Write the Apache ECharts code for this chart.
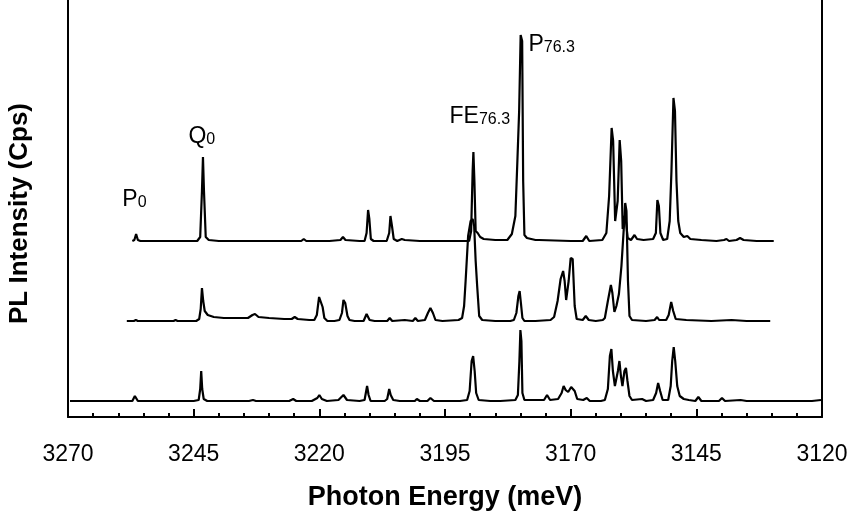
<!DOCTYPE html>
<html><head><meta charset="utf-8">
<script src="https://cdn.jsdelivr.net/npm/echarts@6/dist/echarts.min.js"></script>
<style>html,body{margin:0;padding:0;background:#fff}#c{width:852px;height:520px}</style>
</head><body><div id="c"></div>
<script>
// ---------- data ----------
const xTickLabels = [3270, 3245, 3220, 3195, 3170, 3145, 3120];
const xTitle = 'Photon Energy (meV)';
const yTitle = 'PL Intensity (Cps)';

// [photon energy (meV), intensity above the trace baseline]
const topSpectrum = [[3257.2,0],[3256.8,1],[3256.45,7],[3256.1,1],[3255.6,0],[3250,0],[3244.3,0],[3243.7,4],[3243.35,50],[3243.15,84],[3242.95,50],[3242.6,4],[3242.0,1],[3240,0],[3232,0],[3223.6,0],[3223.1,2],[3222.6,0],[3218,0],[3215.8,1],[3215.3,4],[3214.8,1],[3212,0],[3211.0,0],[3210.6,8],[3210.3,31],[3210.05,22],[3209.75,2],[3209.2,0],[3206.6,0],[3206.1,8],[3205.85,25],[3205.55,15],[3205.2,2],[3204.5,0],[3203.6,2],[3203.0,1],[3200,0],[3195,0],[3190.2,0],[3189.8,10],[3189.5,70],[3189.35,89],[3189.15,60],[3188.9,10],[3188.5,8],[3188.0,4],[3187.3,2],[3185,1],[3182.6,1],[3181.7,7],[3181.0,25],[3180.6,80],[3180.25,130],[3179.95,206],[3179.65,200],[3179.45,60],[3179.2,6],[3178.7,3],[3177,1],[3176.7,2],[3176.3,1],[3170,0],[3167.6,0],[3166.9,5],[3166.3,0],[3163.7,1],[3162.9,8],[3162.35,45],[3161.85,113],[3161.55,100],[3161.15,20],[3160.65,40],[3160.25,101],[3159.95,80],[3159.65,12],[3159.35,25],[3159.05,22],[3158.65,3],[3158.0,1],[3157.3,6],[3156.8,2],[3155.5,1],[3153.6,2],[3153.05,8],[3152.75,41],[3152.45,35],[3152.15,8],[3151.6,1],[3150.8,2],[3150.3,20],[3149.95,70],[3149.55,143],[3149.25,130],[3148.95,60],[3148.6,20],[3148.2,8],[3147.5,4],[3146.8,5],[3146.2,2],[3144,1],[3141,0],[3139.5,1],[3139.0,2],[3138.5,0],[3137,1],[3136.3,3],[3135.6,1],[3133,0],[3129.6,0]];

const middleSpectrum = [[3258.3,0],[3256.9,0],[3256.5,1],[3256.1,0],[3249,0],[3248.6,1],[3248.2,0],[3244.5,0],[3243.9,2],[3243.6,12],[3243.35,33],[3243.1,20],[3242.8,10],[3242.2,6],[3241,4],[3239,3],[3236,3],[3234.2,3],[3233.3,6],[3232.8,7],[3232.1,4],[3230,3],[3227,2],[3225.5,2],[3224.9,4],[3224.3,2],[3222,1],[3221.0,1],[3220.5,6],[3220.05,24],[3219.75,26],[3219.35,14],[3219.0,3],[3218.4,0],[3217,0],[3216.0,1],[3215.5,8],[3215.2,21],[3214.85,18],[3214.4,5],[3214.0,1],[3213,0],[3211.2,0],[3210.6,7],[3210.0,1],[3209,0],[3206.5,0],[3206.0,3],[3205.5,0],[3203,1],[3201.4,0],[3200.9,3],[3200.4,0],[3199.0,1],[3198.4,8],[3197.9,13],[3197.4,8],[3196.9,1],[3195.5,0],[3192.3,1],[3191.6,3],[3191.2,15],[3190.9,40],[3190.4,85],[3189.9,100],[3189.5,102],[3189.2,95],[3188.9,60],[3188.6,35],[3188.2,5],[3187.6,1],[3185,0],[3182,0],[3181.3,1],[3180.8,8],[3180.4,25],[3180.15,30],[3179.9,18],[3179.6,3],[3179.2,0],[3177,0],[3174.0,1],[3173.3,4],[3172.6,20],[3172.0,42],[3171.5,50],[3171.2,40],[3170.9,21],[3170.4,40],[3170.0,63],[3169.6,62],[3169.2,15],[3168.8,2],[3167.6,1],[3167.0,5],[3166.4,1],[3165,0],[3163.6,1],[3163.2,3],[3162.6,20],[3162.0,36],[3161.7,28],[3161.3,9],[3160.9,15],[3160.4,27],[3159.9,55],[3159.4,95],[3159.15,118],[3158.9,110],[3158.6,40],[3158.3,5],[3157.8,1],[3155,0],[3153.3,1],[3152.8,4],[3152.4,1],[3151,1],[3150.5,6],[3150.0,19],[3149.6,10],[3149.1,2],[3147,1],[3142,0],[3138,1],[3135,0],[3130.3,0]];

const bottomSpectrum = [[3269.6,0],[3258,0],[3257.2,0],[3256.7,5],[3256.1,0],[3245,0],[3244.0,1],[3243.7,12],[3243.5,30],[3243.3,12],[3243.0,2],[3242.3,0],[3234,0],[3233.2,1],[3232.6,0],[3226,0],[3225.2,2],[3224.6,0],[3221.5,0],[3220.4,3],[3220.0,6],[3219.5,2],[3218.5,0],[3216.2,1],[3215.2,6],[3214.5,1],[3212,0],[3211.0,1],[3210.75,8],[3210.5,15],[3210.2,6],[3209.8,0],[3207,0],[3206.5,2],[3206.1,12],[3205.8,6],[3205.3,1],[3204,0],[3201,0],[3200.6,2],[3200,0],[3198.5,0],[3197.9,3],[3197.2,0],[3192,0],[3190.6,1],[3190.1,10],[3189.7,40],[3189.4,45],[3189.1,30],[3188.8,8],[3188.3,1],[3186,0],[3184,0],[3181.0,1],[3180.5,6],[3180.2,40],[3180.0,71],[3179.8,60],[3179.6,8],[3179.2,1],[3177,1],[3175.3,1],[3174.7,6],[3174.1,1],[3172.5,2],[3171.8,8],[3171.4,15],[3171.0,11],[3170.5,9],[3169.9,14],[3169.6,16],[3169.2,10],[3168.7,2],[3167.5,1],[3166.8,3],[3166.2,0],[3164,0],[3163.2,1],[3162.6,12],[3162.2,45],[3161.9,52],[3161.6,30],[3161.2,15],[3160.6,30],[3160.3,40],[3160.0,25],[3159.7,15],[3159.3,30],[3159.0,33],[3158.7,20],[3158.3,5],[3157.8,1],[3155.8,2],[3155,0],[3153.6,1],[3153.0,8],[3152.6,18],[3152.2,10],[3151.7,1],[3150.6,1],[3150.1,15],[3149.8,40],[3149.5,54],[3149.2,40],[3148.8,15],[3148.3,5],[3147.5,2],[3146.5,1],[3145.2,0],[3144.6,4],[3144.0,0],[3140.5,0],[3139.9,3],[3139.3,0],[3136.2,1],[3135,0],[3122,0],[3120.2,1]];

// peak annotations: label text and anchor [energy, displayed intensity]
const peakLabelMain = ['P', 'Q', 'FE', 'P'];
const peakLabelSub = ['0', '0', '76.3', '76.3'];
const peakLabelAnchor = [[3259.2, 206], [3246.05, 269], [3194.1, 289], [3178.4, 361]];

// ---------- chart ----------
const FONT = '"Liberation Sans", Arial, Helvetica, sans-serif';
const traceOffsets = [176, 96, 16];   // vertical stacking of the traces
const spectra = [topSpectrum, middleSpectrum, bottomSpectrum];

const chart = echarts.init(document.getElementById('c'), null, {renderer: 'canvas'});

const series = spectra.map((s, i) => ({
  type: 'line',
  data: s.map(p => [p[0], p[1] + traceOffsets[i]]),
  showSymbol: false,
  symbol: 'none',
  silent: true,
  lineStyle: {color: '#000', width: 2.2},
  z: 3
}));

series[0].markPoint = {
  silent: true,
  symbol: 'circle',
  symbolSize: 0,
  data: peakLabelAnchor.map((a, i) => ({
    coord: a,
    label: {
      show: true,
      position: 'insideBottomLeft',
      distance: 0,
      formatter: () => '{m|' + peakLabelMain[i] + '}{s|' + peakLabelSub[i] + '}',
      rich: {
        m: {fontSize: 23, fontFamily: FONT, color: '#000', verticalAlign: 'bottom', lineHeight: 26},
        s: {fontSize: 16, fontFamily: FONT, color: '#000', verticalAlign: 'bottom', lineHeight: 14}
      }
    }
  }))
};

const option = {
  animation: false,
  backgroundColor: '#fff',
  grid: {left: 68, right: 30, top: 0, bottom: 103, outerBoundsMode: 'none'},
  xAxis: [
    {
      type: 'value', min: 3120, max: 3270, interval: 5, inverse: true, position: 'bottom',
      axisLine: {show: true, onZero: false, lineStyle: {color: '#000', width: 2}},
      axisTick: {show: true, inside: true, length: 4, lineStyle: {color: '#000', width: 2}},
      axisLabel: {
        formatter: v => xTickLabels.includes(v) ? String(v) : '',
        margin: 26, fontSize: 23, color: '#000', fontFamily: FONT,
        showMinLabel: true, showMaxLabel: true
      },
      splitLine: {show: false},
      name: xTitle, nameLocation: 'middle', nameGap: 67,
      nameTextStyle: {fontSize: 27, fontWeight: 'bold', color: '#000', fontFamily: FONT}
    },
    {
      type: 'value', min: 0, max: 150, interval: 25, position: 'bottom',
      axisLine: {show: false, onZero: false},
      axisTick: {show: true, inside: true, length: 8, lineStyle: {color: '#000', width: 2}},
      axisLabel: {show: false},
      splitLine: {show: false}
    }
  ],
  yAxis: [
    {
      type: 'value', min: 0, max: 417, position: 'left',
      axisLine: {show: true, onZero: false, lineStyle: {color: '#000', width: 2}},
      axisTick: {show: false}, axisLabel: {show: false}, splitLine: {show: false},
      name: yTitle, nameLocation: 'middle', nameGap: 35, nameRotate: 90,
      nameTextStyle: {fontSize: 26, fontWeight: 'bold', color: '#000', fontFamily: FONT, padding: [0, 10, 0, 0]}
    },
    {
      type: 'value', min: 0, max: 417, position: 'right',
      axisLine: {show: true, onZero: false, lineStyle: {color: '#000', width: 2}},
      axisTick: {show: false}, axisLabel: {show: false}, splitLine: {show: false}
    }
  ],
  series: series
};
chart.setOption(option);
</script>
</body></html>
